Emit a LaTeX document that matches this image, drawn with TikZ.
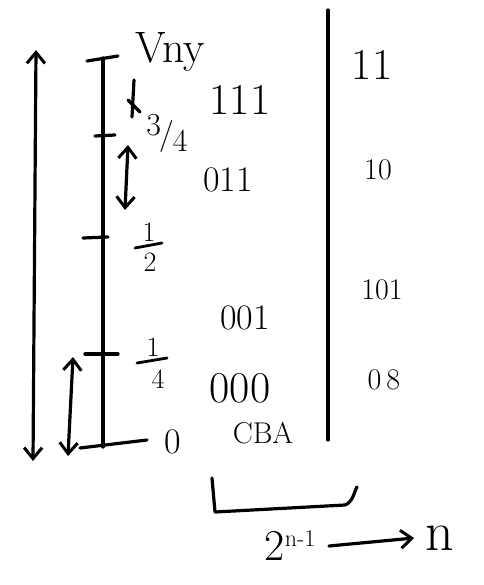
\documentclass[tikz,border=0pt]{standalone}
\usetikzlibrary{arrows.meta}
\begin{document}
\begin{tikzpicture}[x=1pt,y=-1pt,line width=3.2pt,line cap=round,line join=round,
  txt/.style={inner sep=0pt,anchor=center},
  big/.style={txt,font=\fontsize{44}{48}\selectfont},
  mid/.style={txt,font=\fontsize{36}{40}\selectfont},
  small/.style={txt,font=\fontsize{30}{34}\selectfont},
  frac/.style={txt,font=\fontsize{28}{30}\selectfont},
  barb/.style={-{Straight Barb[length=11pt,width=18pt,line width=3pt]}},
  dbarb/.style={{Straight Barb[length=11pt,width=18pt,line width=3pt]}-{Straight Barb[length=11pt,width=18pt,line width=3pt]}}]
\useasboundingbox (0,0) rectangle (483,585);

% full-scale range arrow
\coordinate (fullTop) at (36,50);
\coordinate (fullBot) at (33,461);
\draw[dbarb] (fullBot) -- (fullTop);

% voltage axis with its ticks
\coordinate (axTop) at (103,58);
\coordinate (axBot) at (103,447);
\draw (axTop) -- (axBot);
\coordinate (tRefL) at (87,61);  \coordinate (tRefR) at (118,56);
\coordinate (tQ3L) at (95,136);  \coordinate (tQ3R) at (115,135);
\coordinate (tHL) at (83,238);   \coordinate (tHR) at (108,237);
\coordinate (tQ1L) at (85,354);  \coordinate (tQ1R) at (118,354);
\coordinate (tZL) at (80,448);   \coordinate (tZR) at (147,440);
\draw (tRefL) -- (tRefR);
\draw (tQ3L) -- (tQ3R);
\draw (tHL) -- (tHR);
\draw (tQ1L) -- (tQ1R);
\draw (tZL) -- (tZR);

% one-step (LSB) arrow
\coordinate (lsbTop) at (73,357);
\coordinate (lsbBot) at (68,456);
\draw[dbarb] (lsbBot) -- (lsbTop);

% small marks around the 3/4 level
\coordinate (dnTop) at (134,80);
\coordinate (dnBot) at (132,117);
\draw (dnTop) -- (dnBot);
\draw (128,100) -- (140,112);
\coordinate (stTop) at (128,145);
\coordinate (stBot) at (125,210);
\draw[dbarb] (stBot) -- (stTop);

% axis labels
\node[big] (vref) at (170,52) {Vny};
\node[txt,font=\fontsize{32}{36}\selectfont] (q3) at (167,133)
  {\raisebox{9pt}{3}\kern-2pt/\kern-1pt\raisebox{-7pt}{4}};
% one half, hand-style fraction
\node[frac] (halfNum) at (149,232) {1};
\coordinate (halfBarL) at (135,248);
\coordinate (halfBarR) at (162,243);
\draw[line width=2.8pt] (halfBarL) -- (halfBarR);
\node[frac] (halfDen) at (150,262) {2};
% one quarter, hand-style fraction
\node[frac] (quartNum) at (153,347) {1};
\coordinate (quartBarL) at (137,363);
\coordinate (quartBarR) at (167,358);
\draw[line width=2.8pt] (quartBarL) -- (quartBarR);
\node[frac] (quartDen) at (158,379) {4};
\node[mid] (zero) at (173,442) {0};

% output codes
\node[big] (c111) at (240,100) {111};
\node[mid] (c011) at (228,180) {011};
\node[mid] (c001) at (245,318) {001};
\node[big] (c000) at (240,388) {000};
\node[small] (cba) at (263,433) {CBA};

% divider
\coordinate (divTop) at (328,10);
\coordinate (divBot) at (328,440);
\draw (divTop) -- (divBot);

% reduced codes
\node[big] (r11) at (372,65) {11};
\node[small] (r10) at (378,170) {10};
\node[small] (r101) at (382,290) {101};
\node[small] (r00) at (384,380) {0\,8};

% bracket under the code column
\coordinate (brA) at (212,478);
\coordinate (brB) at (215,512);
\coordinate (brC) at (345,505);
\coordinate (brD) at (357,487);
\draw (brA) -- (brB) -- (brC) .. controls (353,502) and (354,492) .. (brD);

% count relation
\node[big] (pow) at (290,546) {2\raisebox{14pt}{\fontsize{24}{26}\selectfont n-1}};
\node[txt,font=\fontsize{56}{60}\selectfont] (nn) at (440,538) {n};
\draw[barb] ([xshift=12pt]pow.east) -- ([xshift=-10pt]nn.west);
\end{tikzpicture}
\end{document}
